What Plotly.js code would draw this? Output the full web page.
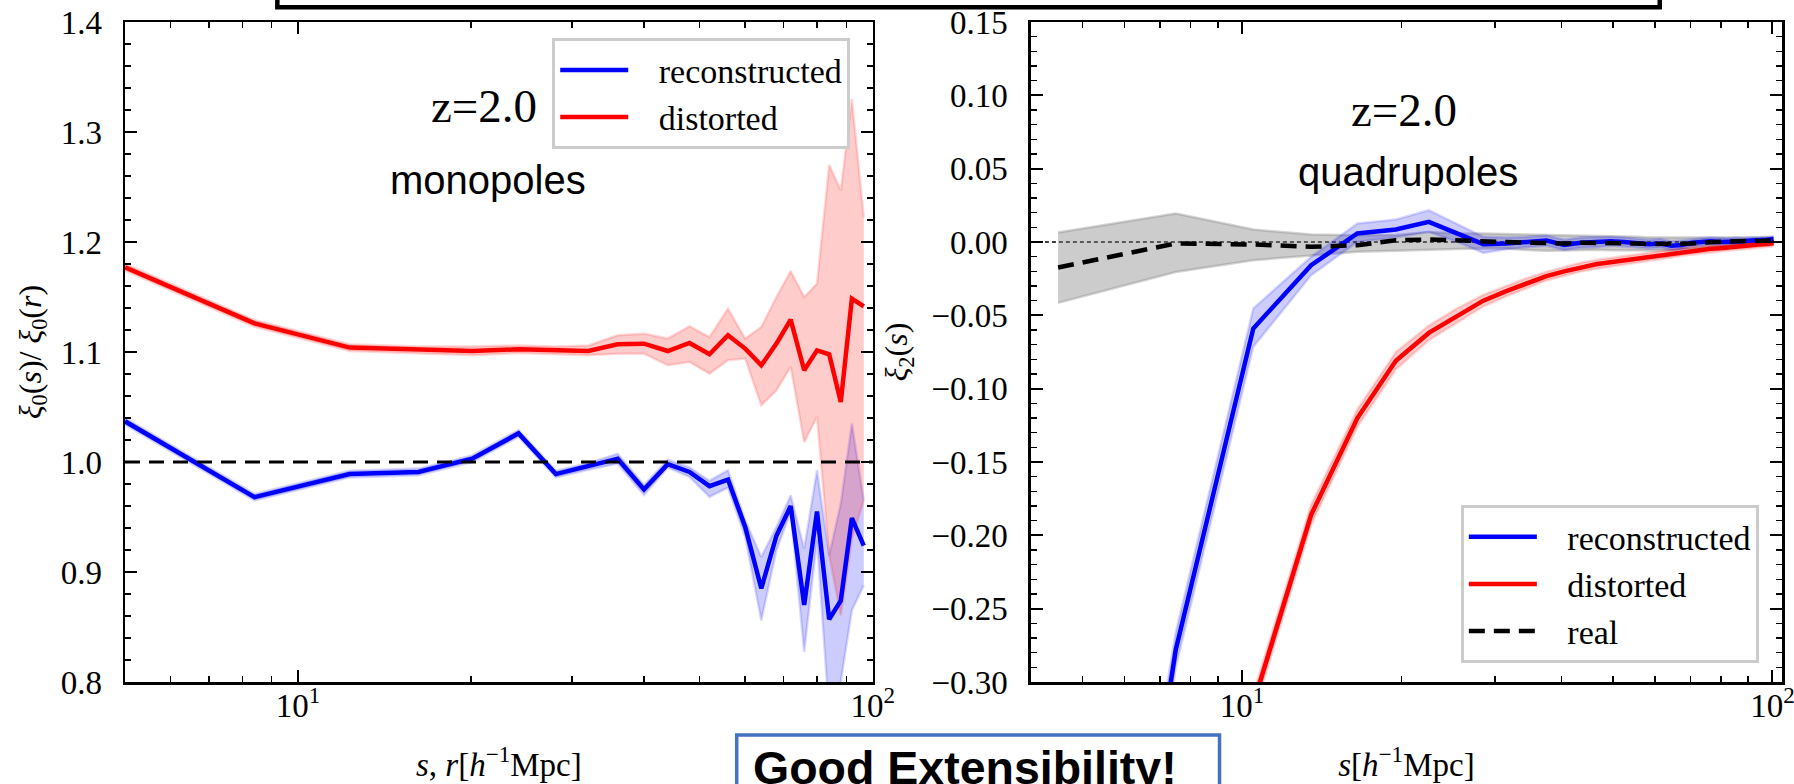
<!DOCTYPE html>
<html><head><meta charset="utf-8">
<script src="https://cdn.plot.ly/plotly-3.0.1.min.js"></script>
<style>html,body{margin:0;padding:0;background:#fff}</style>
</head><body><div id="chart" style="width:1794px;height:784px"></div>
<script>
// ---------- Left panel: monopole ratio ----------
const sL = [5, 8.4, 12.3, 16.2, 20.1, 24.2, 28.1, 32, 36, 40, 44, 48, 52, 56, 60, 64, 68, 72, 76, 80, 84, 88, 92, 96.5];
const recL   = [1.037, 0.968, 0.989, 0.991, 1.003, 1.026, 0.989, 0.996, 1.003, 0.975, 0.998, 0.991, 0.978, 0.984, 0.941, 0.885, 0.933, 0.960, 0.870, 0.955, 0.857, 0.874, 0.949, 0.924];
const recLhi = [1.040, 0.971, 0.992, 0.994, 1.006, 1.029, 0.992, 0.999, 1.0076, 0.979, 1.002, 0.995, 0.983, 0.9925, 0.947, 0.9136, 0.941, 0.9697, 0.9212, 0.9925, 0.9152, 0.9622, 1.035, 0.9652];
const recLlo = [1.034, 0.965, 0.986, 0.988, 1.000, 1.023, 0.986, 0.993, 0.9985, 0.970, 0.995, 0.9864, 0.9682, 0.9767, 0.9318, 0.856, 0.9197, 0.9545, 0.8273, 0.9288, 0.770, 0.800, 0.865, 0.888];
const disL   = [1.177, 1.126, 1.104, 1.102, 1.101, 1.1025, 1.1015, 1.101, 1.107, 1.1076, 1.1009, 1.1082, 1.0979, 1.1152, 1.1031, 1.0879, 1.1076, 1.1294, 1.0834, 1.1015, 1.0979, 1.0545, 1.1485, 1.1415];
const disLhi = [1.180, 1.129, 1.107, 1.105, 1.105, 1.106, 1.105, 1.106, 1.1152, 1.1167, 1.1122, 1.1234, 1.1136, 1.1394, 1.1122, 1.1227, 1.150, 1.1736, 1.150, 1.1622, 1.270, 1.247, 1.330, 1.2227];
const disLlo = [1.174, 1.123, 1.101, 1.099, 1.097, 1.099, 1.098, 1.097, 1.0985, 1.0985, 1.0879, 1.0909, 1.0803, 1.0925, 1.094, 1.0515, 1.065, 1.0864, 1.018, 1.041, 0.915, 0.8606, 0.930, 0.965];

// ---------- Right panel: quadrupoles ----------
const sR = [4.5, 7.5, 10.5, 13.5, 16.5, 19.5, 22.5, 25.5, 28.5, 31.5, 34.5, 37.5, 40.5, 43.5, 46.5, 49.5, 52.5, 55.5, 58.5, 61.5, 64.5, 67.5, 70.5, 73.5, 76.5, 79.5, 82.5, 85.5, 88.5, 91.5, 94.5, 97.5, 100.5];
const recR   = [-0.80, -0.278, -0.059, -0.0158, 0.0058, 0.0085, 0.0137, 0.006, -0.0015, -0.001, 0.0, 0.001, -0.002, -0.0005, 0.0, 0.0005, 0.0, -0.001, -0.0015, -0.001, -0.0025, -0.002, -0.0005, 0.0, 0.0005, 0.0, 0.0, 0.0005, 0.0005, 0.001, 0.001, 0.0015, 0.002];
const recRhi = [-0.75, -0.266, -0.0453, -0.0101, 0.0126, 0.0153, 0.0217, 0.012, 0.0035, 0.003, 0.0035, 0.0045, 0.0015, 0.003, 0.0035, 0.0035, 0.003, 0.002, 0.0015, 0.002, 0.0005, 0.001, 0.002, 0.0025, 0.003, 0.0025, 0.0025, 0.003, 0.0028, 0.0032, 0.0032, 0.0035, 0.004];
const recRlo = [-0.85, -0.290, -0.0715, -0.0226, 0.0, 0.003, 0.0069, 0.0, -0.0075, -0.005, -0.0035, -0.0025, -0.0055, -0.004, -0.0035, -0.0025, -0.003, -0.004, -0.0045, -0.004, -0.0055, -0.005, -0.003, -0.0025, -0.002, -0.0025, -0.0025, -0.002, -0.0018, -0.0012, -0.0012, -0.0005, 0.0];
const disR   = [-0.95, -0.55, -0.315, -0.186, -0.120, -0.081, -0.062, -0.050, -0.040, -0.0335, -0.028, -0.0232, -0.020, -0.0172, -0.0152, -0.0138, -0.0125, -0.0113, -0.0100, -0.0088, -0.0078, -0.0068, -0.0060, -0.0053, -0.0046, -0.0043, -0.0036, -0.0030, -0.0026, -0.0021, -0.0017, -0.0013, -0.0009];
const disRhi = [-0.94, -0.542, -0.308, -0.179, -0.114, -0.075, -0.057, -0.045, -0.036, -0.030, -0.0245, -0.0202, -0.017, -0.0142, -0.0122, -0.0108, -0.0095, -0.0083, -0.0070, -0.0060, -0.0050, -0.0042, -0.0034, -0.0028, -0.0021, -0.0019, -0.0012, -0.0007, -0.0003, 0.0001, 0.0005, 0.0007, 0.0011];
const disRlo = [-0.96, -0.558, -0.322, -0.193, -0.126, -0.087, -0.067, -0.055, -0.044, -0.037, -0.0315, -0.0262, -0.023, -0.0202, -0.0182, -0.0168, -0.0155, -0.0143, -0.0130, -0.0116, -0.0106, -0.0094, -0.0086, -0.0078, -0.0071, -0.0067, -0.0060, -0.0053, -0.0049, -0.0043, -0.0039, -0.0033, -0.0029];
const realR   = [-0.0174, -0.001, -0.0017, -0.0033, -0.0022, 0.0012, 0.0017, 0.0008, 0.0002, 0.0, -0.0005, -0.001, -0.001, -0.0005, -0.0005, -0.001, -0.001, -0.001, -0.0015, -0.0015, -0.0015, -0.001, -0.001, -0.0005, 0.0, 0.0, 0.0003, 0.0005, 0.0005, 0.0008, 0.0008, 0.001, 0.001];
const realRhi = [0.0065, 0.0194, 0.0085, 0.0051, 0.0046, 0.0048, 0.0069, 0.006, 0.0058, 0.0055, 0.005, 0.0045, 0.0043, 0.0045, 0.0043, 0.004, 0.0038, 0.0035, 0.003, 0.003, 0.003, 0.003, 0.003, 0.0032, 0.0035, 0.0033, 0.0033, 0.0033, 0.0032, 0.0032, 0.003, 0.003, 0.003];
const realRlo = [-0.0415, -0.0204, -0.0124, -0.009, -0.0067, -0.006, -0.0051, -0.0048, -0.0044, -0.0045, -0.0055, -0.006, -0.0058, -0.0053, -0.0052, -0.0056, -0.0056, -0.0055, -0.006, -0.006, -0.0058, -0.005, -0.005, -0.0042, -0.0035, -0.0032, -0.0027, -0.0023, -0.0022, -0.0016, -0.0015, -0.001, -0.001];

// ---------- labels ----------
const seriesNames = ['reconstructed', 'distorted', 'real'];
const panelTexts = ['z=2.0', 'monopoles', 'quadrupoles'];
const xTickVals = [10, 100];
const xTickText = ['10<sup>1</sup>', '10<sup>2</sup>'];

const SERIF = '"Liberation Serif", "Times New Roman", serif';
const SANS = '"Liberation Sans", Arial, sans-serif';
const BLUE = '#0000ff', RED = '#ff0000';
const GAP = '\u00a0\u00a0\u00a0';   // visual gap between legend line and its label

function band(x, lo, hi, fill, edge, xa, ya) {
  return [
    {x: x, y: hi, xaxis: xa, yaxis: ya, type: 'scatter', mode: 'lines',
     line: {color: edge, width: 2.5}, showlegend: false, hoverinfo: 'skip'},
    {x: x, y: lo, xaxis: xa, yaxis: ya, type: 'scatter', mode: 'lines',
     line: {color: edge, width: 2.5}, fill: 'tonexty', fillcolor: fill, showlegend: false, hoverinfo: 'skip'}
  ];
}
function curve(x, y, color, name, xa, ya, leg, dash) {
  return {x: x, y: y, xaxis: xa, yaxis: ya, type: 'scatter', mode: 'lines', name: GAP + name,
          line: {color: color, width: 4.5, dash: dash || 'solid'}, legend: leg, hoverinfo: 'skip'};
}

const traces = [].concat(
  band(sL, recLlo, recLhi, 'rgba(0,0,255,0.2)', 'rgba(0,0,255,0.15)', 'x', 'y'),
  band(sL, disLlo, disLhi, 'rgba(255,0,0,0.2)', 'rgba(255,0,0,0.15)', 'x', 'y'),
  [curve(sL, recL, BLUE, seriesNames[0], 'x', 'y', 'legend'),
   curve(sL, disL, RED, seriesNames[1], 'x', 'y', 'legend')],
  band(sR, realRlo, realRhi, 'rgba(128,128,128,0.4)', 'rgba(128,128,128,0.35)', 'x2', 'y2'),
  band(sR, recRlo, recRhi, 'rgba(0,0,255,0.2)', 'rgba(0,0,255,0.15)', 'x2', 'y2'),
  band(sR, disRlo, disRhi, 'rgba(255,0,0,0.2)', 'rgba(255,0,0,0.15)', 'x2', 'y2'),
  [curve(sR, recR, BLUE, seriesNames[0], 'x2', 'y2', 'legend2'),
   curve(sR, disR, RED, seriesNames[1], 'x2', 'y2', 'legend2'),
   curve(sR, realR, 'black', seriesNames[2], 'x2', 'y2', 'legend2', '16px,9px')]
);

const axBase = {
  showline: true, linecolor: 'black', linewidth: 2.5, mirror: 'ticks',
  ticks: 'inside', ticklen: 12, tickwidth: 2, tickcolor: 'black',
  showgrid: false, zeroline: false, ticklabeloverflow: 'allow',
  tickfont: {family: SERIF, size: 33, color: 'black'}
};
function minorArr(vals) {
  return {ticks: 'inside', ticklen: 6, tickwidth: 1.5, tickcolor: 'black', tickmode: 'array', tickvals: vals, showgrid: false};
}
function minorD(d) {
  return {ticks: 'inside', ticklen: 6, tickwidth: 1.5, tickcolor: 'black', dtick: d, showgrid: false};
}

const PL = 124.6, PR = 11.7, PT = 21.7, PB = 102;
const PW = 1794 - PL - PR, PH = 784 - PT - PB;
const px = v => (v - PL) / PW;         // pixel -> paper x
const py = v => 1 - (v - PT) / PH;     // pixel -> paper y

const legendBase = {
  xanchor: 'left', yanchor: 'top', traceorder: 'normal',
  bgcolor: 'rgba(255,255,255,0.92)', bordercolor: '#cccccc', borderwidth: 3,
  font: {family: SERIF, size: 34, color: 'black'}, itemwidth: 68
};

const layout = {
  width: 1794, height: 784,
  margin: {l: PL, r: PR, t: PT, b: PB, pad: 0},
  paper_bgcolor: 'white', plot_bgcolor: 'white',
  font: {family: SERIF, size: 33, color: 'black'},
  xaxis: Object.assign({}, axBase, {
    domain: [0, (872.6 - PL) / PW], anchor: 'y', type: 'log', range: [Math.log10(5), 2],
    tickmode: 'array', tickvals: xTickVals, ticktext: xTickText, ticklabelstandoff: -7,
    minor: minorArr([6, 7, 8, 9, 20, 30, 40, 50, 60, 70, 80, 90]),
    title: {text: '<i>s</i>, <i>r</i>[<i>h</i><sup>−1</sup>Mpc]', font: {family: SERIF, size: 33}, standoff: 30}
  }),
  yaxis: Object.assign({}, axBase, {
    domain: [0, 1], anchor: 'x', range: [0.8, 1.4], dtick: 0.1, tickformat: '.1f', ticklabelstandoff: 14,
    minor: minorD(0.02),
    title: {text: '<i>ξ</i><sub>0</sub>(<i>s</i>)/ <i>ξ</i><sub>0</sub>(<i>r</i>)', font: {family: SERIF, size: 32}, standoff: 10}
  }),
  xaxis2: Object.assign({}, axBase, {
    domain: [(1030.9 - PL) / PW, 1], anchor: 'y2', type: 'log', range: [0.602, 2.018],
    tickmode: 'array', tickvals: xTickVals, ticktext: xTickText, ticklabelstandoff: -7,
    minor: minorArr([5, 6, 7, 8, 9, 20, 30, 40, 50, 60, 70, 80, 90]),
    title: {text: '<i>s</i>[<i>h</i><sup>−1</sup>Mpc]', font: {family: SERIF, size: 33}, standoff: 30}
  }),
  yaxis2: Object.assign({}, axBase, {
    domain: [0, 1], anchor: 'x2', range: [-0.30, 0.15], dtick: 0.05, tickformat: '.2f', ticklabelstandoff: 14,
    minor: minorD(0.01),
    title: {text: '<i>ξ</i><sub>2</sub>(<i>s</i>)', font: {family: SERIF, size: 32}, standoff: 14}
  }),
  legend: Object.assign({}, legendBase, {x: px(552), y: py(38)}),
  legend2: Object.assign({}, legendBase, {x: px(1461), y: py(505)}),
  shapes: [
    {type: 'line', xref: 'x domain', yref: 'y', x0: 0, x1: 1, y0: 1, y1: 1,
     line: {color: 'black', width: 3, dash: '15px,9px'}},
    {type: 'line', xref: 'x2 domain', yref: 'y2', x0: 0, x1: 1, y0: 0, y1: 0, layer: 'below',
     line: {color: 'black', width: 1.5, dash: '4px,3px'}},
    {type: 'rect', xref: 'paper', yref: 'paper', x0: px(277), x1: px(1660), y0: py(7), y1: py(-40),
     line: {color: 'black', width: 4.5}, fillcolor: 'rgba(0,0,0,0)'},
    {type: 'rect', xref: 'paper', yref: 'paper', x0: px(736.6), x1: px(1219.6), y0: py(735), y1: py(830),
     line: {color: '#4472C4', width: 3.5}, fillcolor: 'white'}
  ],
  annotations: [
    {xref: 'x domain', yref: 'y domain', x: 0.4805, y: 0.873, xanchor: 'center', yanchor: 'middle',
     text: panelTexts[0], showarrow: false, font: {family: SERIF, size: 47, color: 'black'}},
    {xref: 'x domain', yref: 'y domain', x: 0.486, y: 0.76, xanchor: 'center', yanchor: 'middle',
     text: panelTexts[1], showarrow: false, font: {family: SANS, size: 40, color: 'black'}},
    {xref: 'x2 domain', yref: 'y2 domain', x: 0.497, y: 0.866, xanchor: 'center', yanchor: 'middle',
     text: panelTexts[0], showarrow: false, font: {family: SERIF, size: 47, color: 'black'}},
    {xref: 'x2 domain', yref: 'y2 domain', x: 0.502, y: 0.772, xanchor: 'center', yanchor: 'middle',
     text: panelTexts[2], showarrow: false, font: {family: SANS, size: 40, color: 'black'}},
    {xref: 'paper', yref: 'paper', x: px(751), y: py(740), xanchor: 'left', yanchor: 'top',
     text: '<b>Good Extensibility!</b>', showarrow: false,
     font: {family: SANS, size: 46.5, color: 'black'}}
  ]
};

Plotly.newPlot('chart', traces, layout, {displayModeBar: false, staticPlot: true});
</script>
</body></html>
